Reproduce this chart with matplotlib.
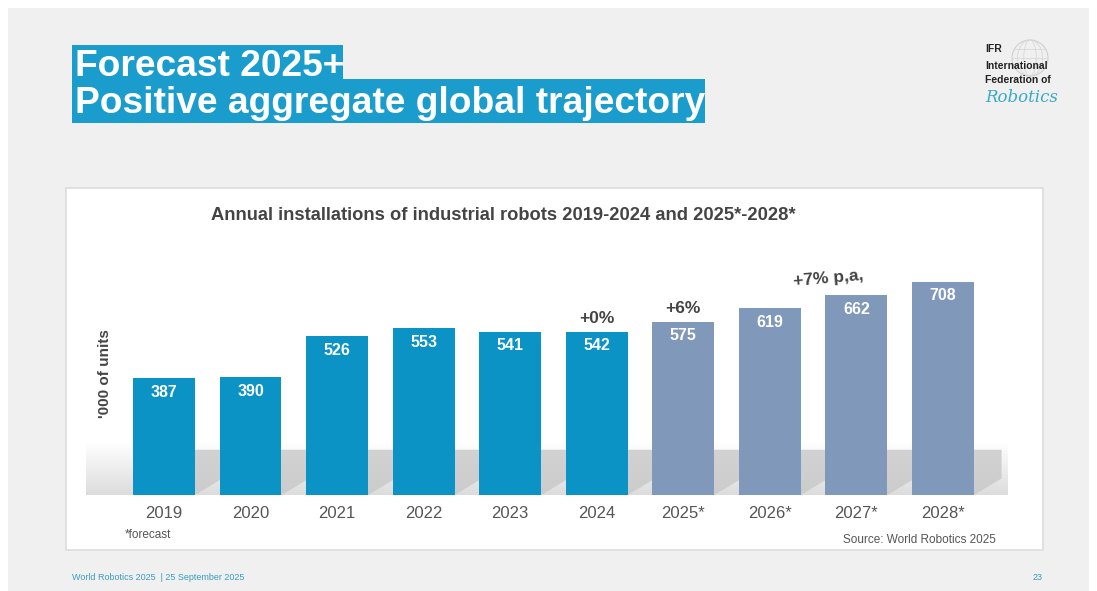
import numpy as np
import matplotlib
matplotlib.use("Agg")
import matplotlib.pyplot as plt
from matplotlib.patches import Rectangle, Polygon, Circle, Ellipse
from matplotlib.colors import LinearSegmentedColormap

plt.rcParams['font.family'] = ['Liberation Sans', 'DejaVu Sans']

# data
years = ['2019', '2020', '2021', '2022', '2023', '2024', '2025*', '2026*', '2027*', '2028*']
installs = [387, 390, 526, 553, 541, 542, 575, 619, 662, 708]
is_forecast = [False] * 6 + [True] * 4
growth_labels = {5: '+0%', 6: '+6%'}
cagr_label = '+7% p,a,'

W, H = 1097, 591
BLUE = '#0c93c5'
GREY_BLUE = '#8098ba'
TITLE_BLUE = '#1a9dcc'
DARK = '#444444'


def fx(px):
    return px / W


def fy(py):
    return 1 - py / H


fig = plt.figure(figsize=(W / 100, H / 100), dpi=100)
fig.patch.set_facecolor('white')

# slide background + chart panel
fig.add_artist(Rectangle((fx(8), fy(591)), fx(1089) - fx(8), fy(8) - fy(591),
                         transform=fig.transFigure, facecolor='#f0f0f0', edgecolor='none', zorder=0))
fig.add_artist(Rectangle((fx(66), fy(550)), fx(1043) - fx(66), fy(188) - fy(550),
                         transform=fig.transFigure, facecolor='white', edgecolor='#dcdcdc', lw=1.2, zorder=0.5))

# title boxes
fig.add_artist(Rectangle((fx(72), fy(79)), fx(343) - fx(72), fy(45) - fy(79),
                         transform=fig.transFigure, facecolor=TITLE_BLUE, edgecolor='none', zorder=1))
fig.add_artist(Rectangle((fx(72), fy(123)), fx(705) - fx(72), fy(79) - fy(123),
                         transform=fig.transFigure, facecolor=TITLE_BLUE, edgecolor='none', zorder=1))
fig.text(fx(75), fy(76), 'Forecast 2025+', color='white', fontsize=26.7, fontweight='bold',
         va='baseline', ha='left', zorder=2)
fig.text(fx(75), fy(113), 'Positive aggregate global trajectory', color='white', fontsize=26.7,
         fontweight='bold', va='baseline', ha='left', zorder=2)

# IFR logo
fig.add_artist(Circle((1030, H - 58), 18, transform=None, fill=False, edgecolor='#d0d0d0', lw=0.8, zorder=1))
for w in [0.35, 0.7]:
    fig.add_artist(Ellipse((1030, H - 58), 36 * w, 36, transform=None, fill=False,
                           edgecolor='#d8d8d8', lw=0.6, zorder=1))
for dy in [-9, 0, 9]:
    half = np.sqrt(18 ** 2 - dy ** 2)
    fig.add_artist(plt.Line2D([1030 - half, 1030 + half], [H - 58 + dy, H - 58 + dy], transform=None,
                              color='#d8d8d8', lw=0.6, zorder=1))
fig.text(fx(985), fy(49), 'IFR', fontsize=7.5, fontweight='bold', color='#222222', va='center', zorder=2)
fig.text(fx(985), fy(66), 'International', fontsize=7.5, fontweight='bold', color='#222222', va='center', zorder=2)
fig.text(fx(985), fy(80), 'Federation of', fontsize=7.5, fontweight='bold', color='#222222', va='center', zorder=2)
fig.text(fx(985), fy(97), 'Robotics', fontsize=12, style='italic', family='DejaVu Serif',
         color='#3aa9c9', va='center', zorder=2)

# chart axes: baseline at y=495 px, 0.3015 px per unit
ax = fig.add_axes([fx(66), fy(495), fx(1043) - fx(66), fy(188) - fy(495)])
ax.set_zorder(3)
ax.patch.set_alpha(0)
ax.set_xlim((66 - 164) / 86.55, (1043 - 164) / 86.55)
ax.set_ylim(0, 307 / 0.3015)
for s in ax.spines.values():
    s.set_visible(False)
ax.set_yticks([])

x = np.arange(len(years))
bw = 0.715

# floor band + shadows
floor_cmap = LinearSegmentedColormap.from_list('floor', ['#dcdcdc', '#ffffff'])
floor = np.linspace(0, 1, 60).reshape(-1, 1)
ax.imshow(floor, extent=(-0.9, 9.75, 0, 175), aspect='auto', cmap=floor_cmap,
          origin='lower', zorder=0)
for xi in x:
    xl, xr = xi - bw / 2, xi + bw / 2
    ax.add_patch(Polygon([(xl, 0), (xr, 0), (xr + 0.32, 55), (xr + 0.32, 150), (xl + 0.32, 150)],
                         closed=True, facecolor='#c8c8c8', edgecolor='none', alpha=0.8, zorder=1))

colors = [GREY_BLUE if f else BLUE for f in is_forecast]
bars = ax.bar(x, installs, width=bw, color=colors, zorder=2)
for xi, v in zip(x, installs):
    ax.text(xi, v - 46, str(v), color='white', fontsize=11.5, fontweight='bold',
            ha='center', va='center', zorder=4)

for i, lab in growth_labels.items():
    ax.text(x[i], installs[i] + 43, lab, color=DARK, fontsize=12.5, fontweight='bold',
            ha='center', va='center', zorder=4)
ax.text(7.68, 717, cagr_label, color=DARK, fontsize=12.5, fontweight='bold', rotation=5,
        ha='center', va='center', zorder=4)

ax.set_xticks(x)
ax.set_xticklabels(years, fontsize=12, color='#555555')
ax.tick_params(axis='x', length=0, pad=8)

fig.text(fx(503), fy(215), 'Annual installations of industrial robots 2019-2024 and 2025*-2028*',
         fontsize=13.2, fontweight='bold', color=DARK, ha='center', va='center', zorder=4)
fig.text(fx(105), fy(374), "'000 of units", fontsize=11, fontweight='bold', color=DARK,
         rotation=90, ha='center', va='center', zorder=4)
fig.text(fx(125), fy(535), '*forecast', fontsize=8.5, color='#555555', va='center', zorder=4)
fig.text(fx(996), fy(540), 'Source: World Robotics 2025', fontsize=8.5, color='#555555',
         ha='right', va='center', zorder=4)

# footer
fig.text(fx(72), fy(578), 'World Robotics 2025  | 25 September 2025', fontsize=6.5, color='#3a9cc0',
         va='center', zorder=4)
fig.text(fx(1043), fy(578), '23', fontsize=6.5, color='#3a9cc0', ha='right', va='center', zorder=4)

fig.savefig('out.png', dpi=100)
